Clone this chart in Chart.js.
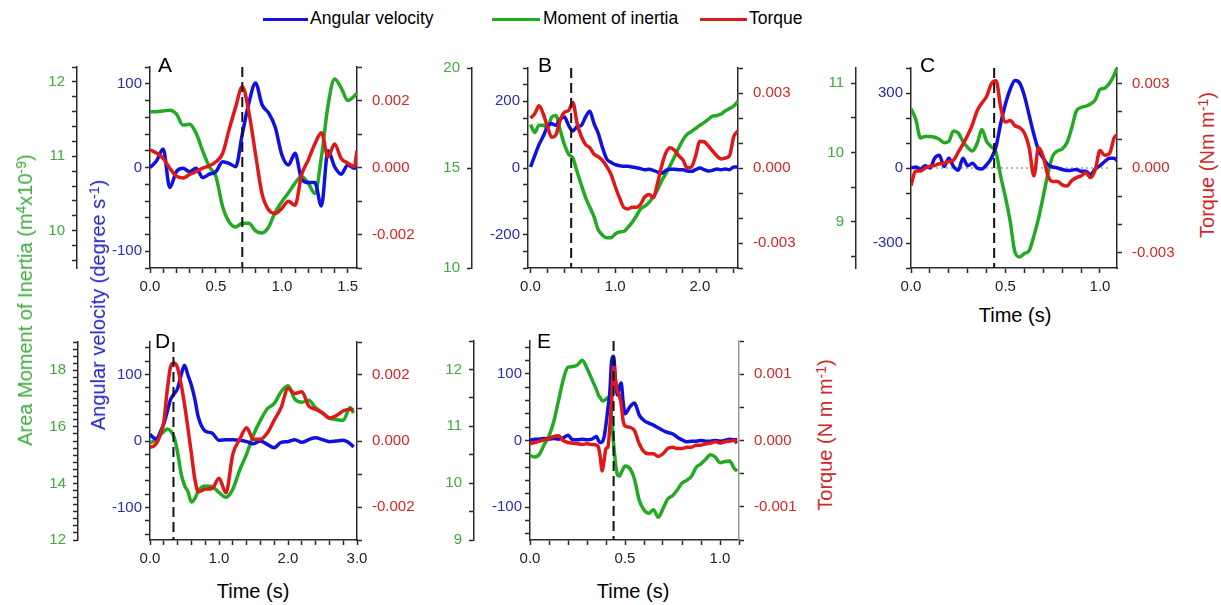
<!DOCTYPE html>
<html>
<head>
<meta charset="utf-8">
<script src="https://cdn.jsdelivr.net/npm/chart.js@4.4.1/dist/chart.umd.min.js"></script>
<style>
  body { margin: 0; background: #fff; font-family: "Liberation Sans", Arial, sans-serif; }
  #wrap { position: relative; width: 1221px; height: 605px; overflow: hidden; }
  .txt { position: absolute; white-space: nowrap; line-height: 1; }
  .vert { transform: translate(-50%, -50%) rotate(-90deg); font-size: 20px; }
  .ctr { transform: translate(-50%, -50%); }
  sup { font-size: 0.7em; vertical-align: 0.45em; line-height: 0; }
  .key { position: absolute; height: 3px; }
  .letter { font-size: 21px; color: #000; }
</style>
</head>
<body>
<div id="wrap">
  <!-- legend -->
  <div class="key" style="left:263px;top:18px;width:45px;background:#1010e0"></div>
  <div class="txt" style="left:310px;top:10px;font-size:17.5px">Angular velocity</div>
  <div class="key" style="left:492px;top:18px;width:48px;background:#22aa22"></div>
  <div class="txt" style="left:543px;top:10px;font-size:17.5px">Moment of inertia</div>
  <div class="key" style="left:700px;top:18px;width:47px;background:#e01818"></div>
  <div class="txt" style="left:749px;top:10px;font-size:17.5px">Torque</div>

  <!-- axis titles -->
  <div class="txt vert" style="left:25px;top:300px;color:#3dab3d">Area Moment of Inertia (m<sup>4</sup>x10<sup>-9</sup>)</div>
  <div class="txt vert" style="left:98px;top:305px;color:#2222c0">Angular velocity (degree s<sup>-1</sup>)</div>
  <div class="txt vert" style="left:1207px;top:165px;color:#d42626">Torque (Nm m<sup>-1</sup>)</div>
  <div class="txt vert" style="left:825px;top:435px;color:#d42626">Torque (N m m<sup>-1</sup>)</div>
  <div class="txt ctr" style="left:1015px;top:315px;font-size:20px">Time (s)</div>
  <div class="txt ctr" style="left:253px;top:591px;font-size:20px">Time (s)</div>
  <div class="txt ctr" style="left:633px;top:591px;font-size:20px">Time (s)</div>

  <!-- panel letters -->
  <div class="txt letter" style="left:158px;top:54px">A</div>
  <div class="txt letter" style="left:538px;top:54px">B</div>
  <div class="txt letter" style="left:920px;top:54px">C</div>
  <div class="txt letter" style="left:155px;top:330px">D</div>
  <div class="txt letter" style="left:537px;top:330px">E</div>
</div>
<script>
// ---- panel A ----
const timeA = [0, 0.05, 0.1, 0.15, 0.2, 0.25, 0.3, 0.35, 0.4, 0.45, 0.5, 0.55, 0.6, 0.65, 0.7, 0.75,
  0.8, 0.85, 0.9, 0.95, 1.0, 1.05, 1.1, 1.15, 1.2, 1.25, 1.3, 1.35, 1.4, 1.45, 1.5, 1.55, 1.57];
const velA = [0, 8, 22, -24, -5, -1, -5, -1, -12, -8, -5, 7, 5, 1, 40, 77,
  101, 75, 65, 48, 15, 3, 17, -14, -18, -18, -46, 20, 1, -8, 3, -1, 2];
const momA = [11.60, 11.60, 11.61, 11.62, 11.57, 11.42, 11.43, 11.31, 11.07, 10.86, 10.73, 10.33, 10.12, 10.05, 10.10, 10.10,
  10.00, 9.97, 10.05, 10.25, 10.39, 10.51, 10.64, 10.73, 10.64, 10.50, 10.99, 11.68, 12.04, 11.92, 11.75, 11.81, 11.85];
const torqueA = [0.00053, 0.00043, 0.00027, -0.00002, -0.00026, -0.00031, -0.00021, -0.00012, -0.00002, 0.00005, 0.00017, 0.00041, 0.00113, 0.00181, 0.00241, 0.00165,
  0.00041, -0.00079, -0.00127, -0.00137, -0.00122, -0.00101, -0.00113, -0.00021, 0.00022, 0.00070, 0.00104, 0.00032, 0.00070, 0.00027, 0.00013, 0.00003, 0.00051];

// ---- panel B ----
const timeB = [0, 0.05, 0.1, 0.15, 0.2, 0.25, 0.3, 0.35, 0.4, 0.45, 0.5, 0.55, 0.6, 0.65, 0.7, 0.75, 0.8, 0.85, 0.9, 0.95,
  1.0, 1.05, 1.1, 1.15, 1.2, 1.25, 1.3, 1.35, 1.4, 1.45, 1.5, 1.55, 1.6, 1.65, 1.7, 1.75, 1.8, 1.85, 1.9, 1.95,
  2.0, 2.05, 2.1, 2.15, 2.2, 2.25, 2.3, 2.35, 2.4, 2.45];
const velB = [3, 37, 70, 95, 124, 133, 128, 146, 153, 128, 111, 124, 128, 153, 170, 133, 104, 61, 27, 17,
  10, 7, 5, 5, 3, 1, -2, -5, -4, -7, -12, -16, -7, -4, -4, -5, -5, -9, -10, -5,
  0, -5, -9, -7, -3, -5, -3, -5, 3, 3];
const momB = [17.17, 16.78, 17.14, 17.14, 16.98, 17.54, 17.62, 16.90, 16.17, 15.69, 15.50, 14.81, 14.16, 13.52, 13.04, 12.56, 11.91, 11.64, 11.51, 11.51,
  11.70, 11.80, 11.83, 12.03, 12.28, 12.60, 12.96, 13.09, 13.28, 13.57, 13.92, 14.37, 14.73, 15.13, 15.56, 16.01, 16.41, 16.69, 16.82, 16.98,
  17.14, 17.27, 17.43, 17.59, 17.62, 17.70, 17.86, 17.97, 18.10, 18.34];
const torqueB = [0.00200, 0.00217, 0.00249, 0.00217, 0.00165, 0.00123, 0.00133, 0.00191, 0.00223, 0.00230, 0.00262, 0.00178, 0.00126, 0.00094, 0.00081, 0.00055, 0.00045, 0.00030, 0.00006, -0.00025,
  -0.00074, -0.00119, -0.00157, -0.00164, -0.00157, -0.00157, -0.00145, -0.00115, -0.00106, -0.00119, -0.00061, 0.00010, 0.00062, 0.00081, 0.00071, 0.00049, 0.00032, 0.00001, 0.00004, 0.00049,
  0.00107, 0.00105, 0.00088, 0.00068, 0.00049, 0.00036, 0.00040, 0.00049, 0.00126, 0.00148];

// ---- panel C ----
const timeC = [0, 0.025, 0.05, 0.075, 0.1, 0.125, 0.15, 0.175, 0.2, 0.225, 0.25, 0.275, 0.3, 0.325, 0.35, 0.375, 0.4, 0.425, 0.45, 0.475,
  0.5, 0.525, 0.55, 0.575, 0.6, 0.625, 0.65, 0.675, 0.7, 0.725, 0.75, 0.775, 0.8, 0.825, 0.85, 0.875, 0.9, 0.925, 0.95, 0.975,
  1.0, 1.025, 1.05, 1.075, 1.09];
const velC = [0, 4, -4, 9, 0, 39, 51, 6, 39, 6, -9, 39, 9, 19, 0, -4, 13, 39, 86, 180,
  257, 315, 350, 340, 289, 212, 135, 71, 39, 13, 4, 0, -6, -10, -9, -6, -13, -13, -26, -4,
  9, 26, 39, 39, 30];
const momC = [10.63, 10.48, 10.21, 10.23, 10.23, 10.22, 10.19, 10.14, 10.16, 10.31, 10.28, 10.16, 10.07, 10.02, 10.13, 10.33, 10.16, 10.08, 10.00, 9.65,
  9.35, 9.00, 8.56, 8.49, 8.54, 8.58, 8.79, 9.05, 9.37, 9.70, 9.95, 10.02, 10.05, 10.14, 10.35, 10.60, 10.65, 10.67, 10.70, 10.76,
  10.91, 10.93, 11.00, 11.12, 11.22];
const torqueC = [-0.00062, -0.00011, -0.00011, 0, 0.00006, 0.00009, 0.00015, 0.00017, 0.00023, 0.00028, 0.00056, 0.00085, 0.00116, 0.00154, 0.00203, 0.00231, 0.00254, 0.00299, 0.00310, 0.00214,
  0.00163, 0.00169, 0.00150, 0.00143, 0.00124, 0.00073, -0.00028, 0.00073, 0.00040, -0.00028, -0.00048, -0.00048, -0.00060, -0.00064, -0.00045, -0.00034, -0.00028, -0.00017, -0.00034, -0.00006,
  0.00062, 0.00045, 0.00051, 0.00107, 0.00118];
const zeroLineC = [0, 1.05];

// ---- panel D ----
const timeD = [0, 0.05, 0.1, 0.15, 0.2, 0.25, 0.3, 0.35, 0.4, 0.45, 0.5, 0.55, 0.6, 0.65, 0.7,
  0.8, 0.9, 1.0, 1.1, 1.2, 1.3, 1.4, 1.5, 1.6, 1.7, 1.8, 1.9, 2.0, 2.1, 2.2, 2.3, 2.4, 2.5, 2.6, 2.7, 2.8, 2.9, 2.95];
const velD = [10, 5, 3, 14, 26, 44, 63, 71, 79, 99, 114, 99, 84, 63, 36,
  15, 12, 1, 2, 2, 1, -1, -4, 0, -5, -10, -2, -1, 2, -2, 2, 5, 2, -1, 0, 1, -4, -9];
const momD = [15.44, 15.49, 15.60, 15.72, 15.83, 15.92, 15.85, 15.63, 15.10, 14.36, 13.93, 13.71, 13.34, 13.46, 13.74,
  13.91, 13.89, 13.68, 13.51, 13.80, 14.47, 15.04, 15.72, 16.23, 16.64, 16.82, 17.24, 17.45, 16.98, 16.87, 16.94, 16.68, 16.49, 16.31, 16.26, 16.23, 16.68, 16.49];
const torqueD = [-0.00019, -0.00016, -0.00005, 0.00019, 0.00058, 0.00154, 0.00226, 0.00236, 0.00221, 0.00173, 0.00111, 0.00038, -0.00038, -0.00115, -0.00154,
  -0.00146, -0.00144, -0.00113, -0.00157, -0.00040, 0.00005, 0.00040, 0.00005, 0.00005, 0.00024, 0.00063, 0.00101, 0.00159, 0.00144, 0.00149, 0.00106, 0.00096, 0.00085, 0.00069, 0.00077, 0.00091, 0.00096, 0.00094];

// ---- panel E ----
const timeE = [0, 0.025, 0.05, 0.075, 0.1, 0.125, 0.15, 0.175, 0.2, 0.225, 0.25, 0.275, 0.3, 0.325, 0.35,
  0.36, 0.37, 0.38, 0.39, 0.4, 0.41, 0.42, 0.43, 0.44, 0.45, 0.46, 0.47, 0.48, 0.49, 0.5,
  0.525, 0.55, 0.575, 0.6, 0.625, 0.65, 0.675, 0.7, 0.725, 0.75, 0.775, 0.8, 0.825, 0.85, 0.875, 0.9, 0.925, 0.95, 0.975,
  1.0, 1.025, 1.05, 1.075, 1.09];
const velE = [0, 2, 2, 3, 2, 3, 2, 4, 8, 1, 1, 2, 1, 2, 6,
  0, -3, -2, 5, 24, 48, 72, 120, 126, 90, 68, 80, 86, 58, 40,
  50, 56, 38, 30, 26, 23, 19, 15, 12, 10, 5, 1, -2, -1, -1, 0, -1, -1, 0,
  -1, 0, 2, 1, 1];
const momE = [10.49, 10.46, 10.51, 10.68, 10.83, 11.08, 11.45, 11.82, 12.04, 12.05, 12.08, 12.16, 12.02, 11.83, 11.64,
  11.55, 11.50, 11.45, 11.45, 11.48, 11.50, 11.45, 11.15, 10.70, 10.35, 10.15, 10.12, 10.18, 10.25, 10.30,
  10.26, 10.07, 9.70, 9.53, 9.47, 9.53, 9.40, 9.55, 9.72, 9.78, 9.88, 10.00, 10.05, 10.12, 10.28, 10.34, 10.42, 10.50, 10.46,
  10.36, 10.38, 10.39, 10.26, 10.21];
const torqueE = [-0.00005, -0.00003, -0.00001, 0.00001, 0.00003, 0.00006, 0.00007, 0, -0.00003, -0.00004, -0.00005, -0.00006, -0.00005, -0.00006, -0.00007,
  -0.0001, -0.00025, -0.00046, -0.0003, -0.00012, -0.0001, 0.0002, 0.0006, 0.00112, 0.0009, 0.00075, 0.00068, 0.00055, 0.0003, 0.00022,
  0.0002, 0.00015, -0.00005, -0.00017, -0.0002, -0.0002, -0.00024, -0.0002, -0.00012, -0.0001, -0.00012, -0.00012, -0.0001, -0.0001, -0.00007, -0.00007, -0.00005, -0.00004, -0.00002,
  -0.00004, -0.00002, -0.00001, 0, -0.00004];

// dashed marker times
const markA = 0.70, markB = 0.48, markC = 0.44, markD = 0.34, markE = 0.44;

// labelled ticks
const xLabA = [0, 0.5, 1.0, 1.5], xLabB = [0, 1, 2], xLabC = [0, 0.5, 1.0], xLabD = [0, 1, 2, 3], xLabE = [0, 0.5, 1.0];
const vLabA = [-100, 0, 100], vLabB = [-200, 0, 200], vLabC = [-300, 0, 300], vLabD = [-100, 0, 100], vLabE = [-100, 0, 100];
const mLabA = [10, 11, 12], mLabB = [10, 15, 20], mLabC = [9, 10, 11], mLabD = [12, 14, 16, 18], mLabE = [9, 10, 11, 12];
const tLabA = [-0.002, 0, 0.002], tLabB = [-0.003, 0, 0.003], tLabC = [-0.003, 0, 0.003], tLabD = [-0.002, 0, 0.002], tLabE = [-0.001, 0, 0.001];

const FONT = '"Liberation Sans", Arial, sans-serif';
const AXIS = '#2a2a2a';
const C_VEL = '#1010e0', C_MOM = '#22aa22', C_TQ = '#e01818';
const T_VEL = '#2a2ab4', T_MOM = '#3dab3d', T_TQ = '#d42626';
const GREEN_W = 47, RED_W = 60, X_H = 30, PAD_TOP = 12;

const panels = [
  { time: timeA, vel: velA, mom: momA, tq: torqueA, mark: markA,
    frame: { g: 77, l: 150, r: 357, t: 60, b: 268 },
    x: { min: 0, max: 1.57, step: 0.1, labels: xLabA },
    v: { min: -120, max: 120, step: 20, labels: vLabA },
    m: { min: 9.5, max: 12.2, step: 0.2, labels: mLabA },
    q: { min: -0.003, max: 0.003, step: 0.001, labels: tLabA } },
  { time: timeB, vel: velB, mom: momB, tq: torqueB, mark: markB,
    frame: { g: 472, l: 528, r: 738, t: 61, b: 268 },
    x: { min: -0.03, max: 2.45, step: 0.2, labels: xLabB },
    v: { min: -300, max: 300, step: 50, labels: vLabB },
    m: { min: 10, max: 20, step: 5, labels: mLabB },
    q: { min: -0.004, max: 0.004, step: 0.001, labels: tLabB } },
  { time: timeC, vel: velC, mom: momC, tq: torqueC, mark: markC, zero: zeroLineC,
    frame: { g: 856, l: 911, r: 1117, t: 61, b: 268 },
    x: { min: 0, max: 1.09, step: 0.1, labels: xLabC },
    v: { min: -400, max: 400, step: 100, labels: vLabC },
    m: { min: 8.33, max: 11.22, step: 0.5, labels: mLabC },
    q: { min: -0.00355, max: 0.00355, step: 0.001, labels: tLabC } },
  { time: timeD, vel: velD, mom: momD, tq: torqueD, mark: markD,
    frame: { g: 78, l: 150, r: 357, t: 335, b: 540 },
    x: { min: 0, max: 3.0, step: 0.2, labels: xLabD },
    v: { min: -149, max: 149, step: 20, labels: vLabD },
    m: { min: 12, max: 19, step: 0.25, labels: mLabD },
    q: { min: -0.003, max: 0.003, step: 0.001, labels: tLabD } },
  { time: timeE, vel: velE, mom: momE, tq: torqueE, mark: markE, qBorder: '#9a9a9a',
    frame: { g: 474, l: 530, r: 739, t: 334, b: 540 },
    x: { min: 0, max: 1.1, step: 0.1, labels: xLabE },
    v: { min: -149, max: 149, step: 20, labels: vLabE },
    m: { min: 9, max: 12.5, step: 0.5, labels: mLabE },
    q: { min: -0.0015, max: 0.0015, step: 0.0005, labels: tLabE } }
];

const markerPlugin = {
  id: 'marker',
  afterDatasetsDraw(chart, args, opts) {
    const { ctx, chartArea, scales } = chart;
    const x = scales.x.getPixelForValue(opts.t);
    ctx.save();
    ctx.strokeStyle = '#111';
    ctx.lineWidth = 2;
    ctx.setLineDash([10, 5]);
    ctx.beginPath();
    ctx.moveTo(x, chartArea.top);
    ctx.lineTo(x, chartArea.bottom);
    ctx.stroke();
    ctx.restore();
  }
};

function axis(position, r, color, digits, size, pad, extra) {
  return Object.assign({
    type: 'linear', position, min: r.min, max: r.max,
    ticks: {
      stepSize: r.step, includeBounds: false, autoSkip: false, maxRotation: 0, minRotation: 0,
      color, padding: pad, font: { family: FONT, size: 15 },
      callback: v => r.labels.some(l => Math.abs(l - v) < 1e-9) ? v.toFixed(digits) : ''
    },
    grid: { drawOnChartArea: false, drawTicks: true, tickLength: 5, tickColor: AXIS, tickWidth: 1.5 },
    border: { color: AXIS, width: 1.5 },
    afterFit: s => { if (s.isHorizontal()) s.height = size; else s.width = size; }
  }, extra || {});
}

function series(label, t, v, color, yAxisID, order) {
  return {
    label, data: t.map((x, i) => ({ x, y: v[i] })), borderColor: color, borderWidth: 3.5,
    pointRadius: 0, fill: false, cubicInterpolationMode: 'monotone', yAxisID, order
  };
}

const wrap = document.getElementById('wrap');
panels.forEach(p => {
  const f = p.frame;
  const left = f.g - GREEN_W, top = f.t - PAD_TOP;
  const w = f.r + RED_W - left, h = f.b + X_H - top;
  const cv = document.createElement('canvas');
  cv.width = w; cv.height = h;
  cv.style.cssText = `position:absolute;left:${left}px;top:${top}px;width:${w}px;height:${h}px`;
  wrap.insertBefore(cv, wrap.firstChild);

  const datasets = [
    series('Torque', p.time, p.tq, C_TQ, 'yT', 0),
    series('Angular velocity', p.time, p.vel, C_VEL, 'yV', 1),
    series('Moment of inertia', p.time, p.mom, C_MOM, 'yM', 2)
  ];
  if (p.zero) {
    datasets.push({
      label: 'zero', data: p.zero.map(x => ({ x, y: 0 })), borderColor: '#b8b8b8', borderWidth: 2,
      borderDash: [2, 3], pointRadius: 0, yAxisID: 'yV', order: 3
    });
  }
  const tqAxis = axis('right', p.q, T_TQ, 3, RED_W, 10);
  if (p.qBorder) tqAxis.border.color = p.qBorder;

  new Chart(cv, {
    type: 'line',
    data: { datasets },
    options: {
      responsive: false, animation: false,
      layout: { padding: { top: PAD_TOP, left: 0, right: 0, bottom: 0 } },
      plugins: { legend: { display: false }, tooltip: { enabled: false }, marker: { t: p.mark } },
      scales: {
        x: axis('bottom', p.x, '#222', 1, X_H, 5),
        yV: axis('left', p.v, T_VEL, 0, f.l - f.g, 3, { weight: 0 }),
        yM: axis('left', p.m, T_MOM, 0, GREEN_W, 7, { weight: 1 }),
        yT: tqAxis
      }
    },
    plugins: [markerPlugin]
  });
});
</script>
</body>
</html>
